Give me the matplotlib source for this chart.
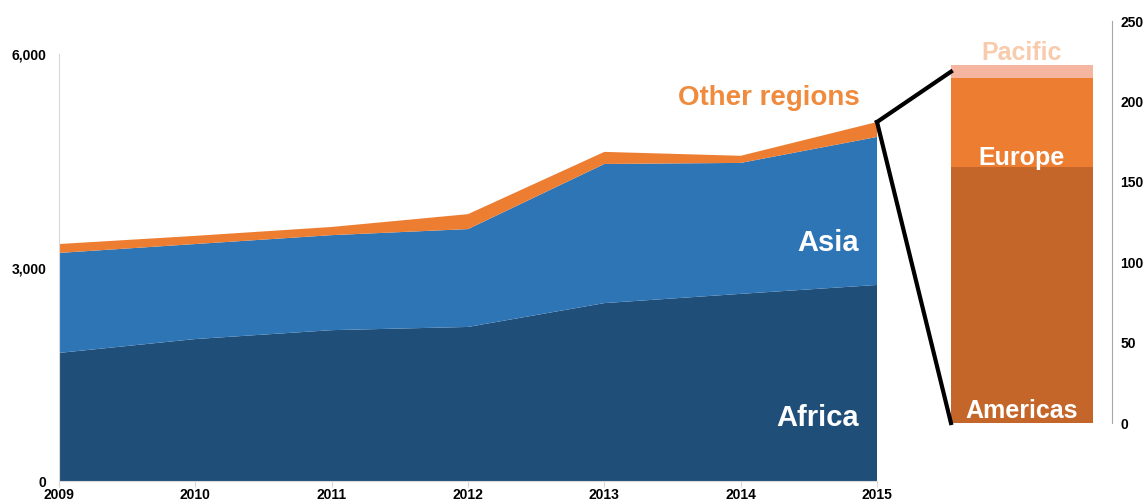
import matplotlib.pyplot as plt
from matplotlib.lines import Line2D

plt.rcParams['font.family'] = ['Liberation Sans', 'DejaVu Sans']

# Stacked area data (left panel)
years = [2009, 2010, 2011, 2012, 2013, 2014, 2015]
africa = [1800, 1995, 2120, 2165, 2500, 2630, 2755]
asia = [1405, 1335, 1335, 1375, 1955, 1840, 2080]
other = [125, 115, 115, 210, 170, 100, 210]

# Breakdown of "other regions" in 2015 (right panel)
regions = ["Americas", "Europe", "Pacific"]
region_values = [159, 55.5, 8]

c_africa = "#1F4E79"
c_asia = "#2E75B6"
c_other = "#ED7D31"
c_americas = "#C4662A"
c_europe = "#ED7D31"
c_pacific = "#F4B6A0"

fig = plt.figure(figsize=(11.43, 5.03), dpi=100)

# left panel
ax = fig.add_axes([0.0516, 0.0437, 0.7157, 0.8489])
ax.stackplot(years, africa, asia, other, colors=[c_africa, c_asia, c_other], linewidth=0)
ax.set_xlim(years[0], years[-1])
ax.set_ylim(0, 6000)
ax.set_yticks([0, 3000, 6000])
ax.set_yticklabels(["0", "3,000", "6,000"])
ax.set_xticks(years)
for s in ["top", "right"]:
    ax.spines[s].set_visible(False)
ax.spines["left"].set_color("#D9D9D9")
ax.spines["bottom"].set_color("#D9D9D9")
ax.tick_params(axis="y", length=0, pad=9, labelsize=10)
ax.tick_params(axis="x", length=4, color="#D9D9D9", pad=1, labelsize=10)
for lab in ax.get_xticklabels() + ax.get_yticklabels():
    lab.set_fontweight("bold")

ax.text(2014.87, 5380, "Other regions", color="#F08A3C", fontsize=20, fontweight="bold", ha="right", va="center")
ax.text(2014.87, 3344, "Asia", color="white", fontsize=21, fontweight="bold", ha="right", va="center")
ax.text(2014.87, 885, "Africa", color="white", fontsize=21, fontweight="bold", ha="right", va="center")

# right panel
ax2 = fig.add_axes([0.832, 0.159, 0.1409, 0.7992])
bottom = 0
colors = [c_americas, c_europe, c_pacific]
for v, c in zip(region_values, colors):
    ax2.bar(0, v, width=0.882, bottom=bottom, color=c, align="edge", linewidth=0)
    bottom += v
ax2.set_xlim(0, 1)
ax2.set_ylim(0, 250)
ax2.set_yticks([0, 50, 100, 150, 200, 250])
ax2.set_xticks([])
for s in ["top", "left", "bottom"]:
    ax2.spines[s].set_visible(False)
ax2.spines["right"].set_color("#A6A6A6")
ax2.yaxis.tick_right()
ax2.tick_params(axis="y", length=0, pad=6, labelsize=10)
for lab in ax2.get_yticklabels():
    lab.set_fontweight("bold")

ax2.text(0.441, 7.5, "Americas", color="white", fontsize=18, fontweight="bold", ha="center", va="center")
ax2.text(0.441, 165, "Europe", color="white", fontsize=18, fontweight="bold", ha="center", va="center")
ax2.text(0.441, 230, "Pacific", color="#F8CBAD", fontsize=18, fontweight="bold", ha="center", va="center")

# connector lines from 2015 total to the bar
total_2015 = africa[-1] + asia[-1] + other[-1]
trans = fig.transFigure.inverted()
p0 = trans.transform(ax.transData.transform((years[-1], total_2015)))
p_top = trans.transform(ax2.transData.transform((0, sum(region_values) - 4)))
p_bot = trans.transform(ax2.transData.transform((0, 0)))
fig.add_artist(Line2D([p0[0], p_top[0]], [p0[1], p_top[1]], color="black", lw=3, transform=fig.transFigure))
fig.add_artist(Line2D([p0[0], p_bot[0]], [p0[1], p_bot[1]], color="black", lw=3, transform=fig.transFigure))

fig.savefig("out.png", dpi=100)
